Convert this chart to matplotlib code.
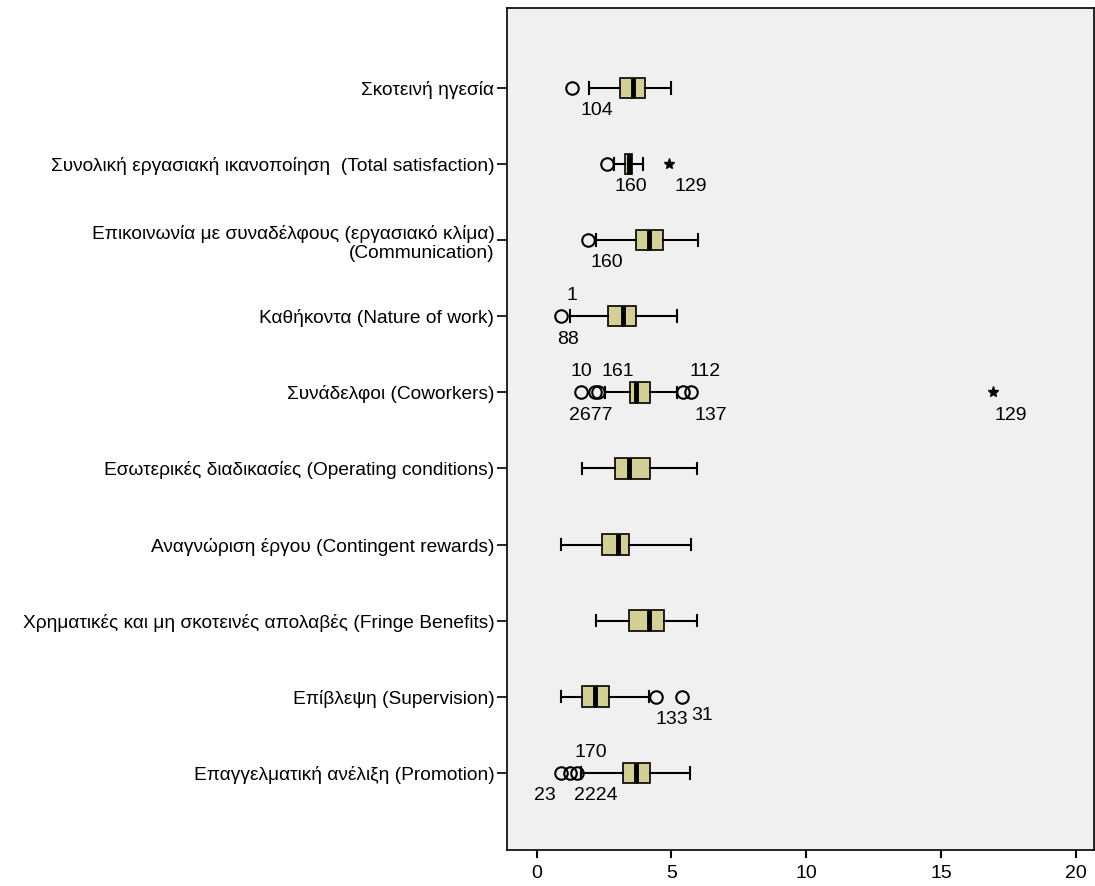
import matplotlib
matplotlib.use("Agg")
import matplotlib.pyplot as plt

plt.rcParams['font.family'] = ['Liberation Sans', 'DejaVu Sans']

labels = [
    "Σκοτεινή ηγεσία",
    "Συνολική εργασιακή ικανοποίηση  (Total satisfaction)",
    "Επικοινωνία με συναδέλφους (εργασιακό κλίμα)\n(Communication)",
    "Καθήκοντα (Nature of work)",
    "Συνάδελφοι (Coworkers)",
    "Εσωτερικές διαδικασίες (Operating conditions)",
    "Αναγνώριση έργου (Contingent rewards)",
    "Χρηματικές και μη σκοτεινές απολαβές (Fringe Benefits)",
    "Επίβλεψη (Supervision)",
    "Επαγγελματική ανέλιξη (Promotion)",
]
whislo = [1.96, 2.88, 2.20, 1.22, 2.55, 1.70, 0.92, 2.22, 0.92, 1.66]
q1     = [3.10, 3.29, 3.70, 2.66, 3.48, 2.92, 2.44, 3.44, 1.70, 3.22]
med    = [3.59, 3.44, 4.18, 3.22, 3.70, 3.44, 3.00, 4.18, 2.18, 3.70]
q3     = [4.03, 3.55, 4.70, 3.70, 4.21, 4.21, 3.44, 4.73, 2.70, 4.21]
whishi = [4.99, 3.96, 5.99, 5.21, 5.21, 5.95, 5.73, 5.95, 4.18, 5.69]
outliers = [[1.33], [2.62], [1.92], [0.92], [1.66, 2.18, 2.26, 5.43, 5.73],
            [], [], [], [4.44, 5.40], [0.92, 1.22, 1.48]]
extremes = [[], [4.92], [], [], [16.93], [], [], [], [], []]

# case labels: (row, x, text, side)
case_labels = [
    (1, 2.22, "104", "below"),
    (2, 3.48, "160", "below"), (2, 5.70, "129", "below"),
    (3, 2.60, "160", "below"),
    (4, 1.30, "1", "above"), (4, 1.15, "88", "below"),
    (5, 1.66, "10", "above"), (5, 3.00, "161", "above"), (5, 6.25, "112", "above"),
    (5, 2.00, "2677", "below"), (5, 6.45, "137", "below"), (5, 17.60, "129", "below"),
    (9, 5.00, "133", "below"), (9, 6.15, "31", "below2"),
    (10, 2.00, "170", "above"), (10, 0.30, "23", "below"), (10, 2.20, "2224", "below"),
]

box_color = "#d4ce97"

fig = plt.figure(figsize=(10.95, 8.86), dpi=100)
ax = fig.add_axes([0.463, 0.041, 0.536, 0.95])
ax.set_facecolor("#f0f0f0")

pos = list(range(1, len(labels) + 1))
stats = []
for i in range(len(labels)):
    stats.append(dict(whislo=whislo[i], q1=q1[i], med=med[i], q3=q3[i],
                      whishi=whishi[i], fliers=outliers[i]))

ax.bxp(stats, positions=pos, vert=False, widths=0.27, patch_artist=True,
       showfliers=True,
       boxprops=dict(facecolor=box_color, edgecolor="black", linewidth=1.2),
       medianprops=dict(color="black", linewidth=3.5),
       whiskerprops=dict(color="black", linewidth=1.5),
       capprops=dict(color="black", linewidth=1.5),
       capwidths=0.15,
       flierprops=dict(marker="o", markerfacecolor="none", markeredgecolor="black",
                       markersize=9, markeredgewidth=1.5))

for i, ex in enumerate(extremes):
    if ex:
        ax.plot(ex, [pos[i]] * len(ex), linestyle="none", marker="*",
                markersize=8, color="black")

offsets = {"above": -0.27, "below": 0.30, "below2": 0.25}
for row, x, txt, side in case_labels:
    ax.text(x, row + offsets[side], txt, ha="center", va="center", fontsize=14)

ax.set_xlim(-1.1, 20.67)
ax.set_ylim(11.01, -0.05)
ax.set_xticks([0, 5, 10, 15, 20])
ax.set_yticks(pos)
ax.set_yticklabels(labels, fontsize=13.8, linespacing=1.2)
ax.tick_params(axis="x", direction="out", length=6, width=1.5, labelsize=14, pad=5)
ax.tick_params(axis="y", direction="out", length=7, width=1.2, pad=2)
for s in ax.spines.values():
    s.set_linewidth(1.2)

fig.savefig("out.png", dpi=100, facecolor="white")
